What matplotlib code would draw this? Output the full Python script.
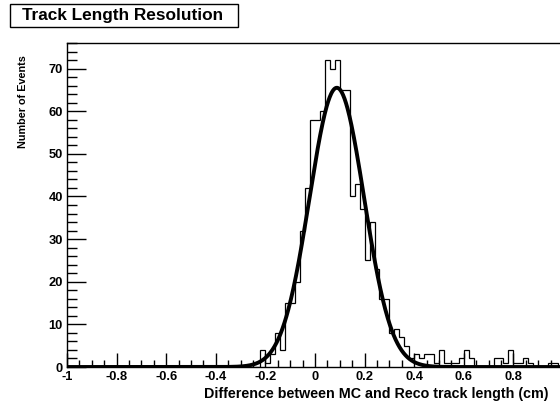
import numpy as np
import matplotlib
matplotlib.use("Agg")
import matplotlib.pyplot as plt
from matplotlib.patches import Rectangle
from matplotlib.ticker import MultipleLocator, FixedLocator

plt.rcParams['font.family'] = ['Liberation Sans', 'DejaVu Sans']

# ---- data ----
x_min, x_max, n_bins = -1.0, 1.0, 100
# nonzero bin contents keyed by bin left edge
bin_left = [-0.22, -0.20, -0.18, -0.16, -0.14, -0.12, -0.10, -0.08, -0.06, -0.04,
            -0.02, 0.00, 0.02, 0.04, 0.06, 0.08, 0.10, 0.12, 0.14, 0.16,
            0.18, 0.20, 0.22, 0.24, 0.26, 0.28, 0.30, 0.32, 0.34, 0.36,
            0.38, 0.40, 0.42, 0.44, 0.46, 0.48, 0.50, 0.52, 0.54, 0.56,
            0.58, 0.60, 0.62, 0.72, 0.74, 0.76, 0.78, 0.80, 0.82, 0.84,
            0.86, 0.94, 0.96]
bin_count = [4, 1, 3, 8, 4, 15, 15, 20, 32, 42,
             58, 58, 60, 72, 70, 72, 65, 65, 40, 43,
             37, 25, 34, 23, 16, 16, 8, 9, 7, 5,
             2, 3, 2, 3, 3, 1, 4, 1, 1, 1,
             2, 4, 2, 2, 2, 1, 4, 1, 1, 2,
             1, 1, 1]
# Gaussian fit parameters
fit_const = 65.5
fit_mean = 0.088
fit_sigma = 0.110

title = "Track Length Resolution"
xlabel = "Difference between MC and Reco track length (cm)"
ylabel = "Number of Events"
x_ticks = [-1, -0.8, -0.6, -0.4, -0.2, 0, 0.2, 0.4, 0.6, 0.8, 1]
x_ticklabels = ["-1", "-0.8", "-0.6", "-0.4", "-0.2", "0", "0.2", "0.4", "0.6", "0.8", ""]
y_ticks = [0, 10, 20, 30, 40, 50, 60, 70]

# ---- build histogram ----
edges = np.linspace(x_min, x_max, n_bins + 1)
counts = np.zeros(n_bins)
for l, c in zip(bin_left, bin_count):
    idx = int(round((l - x_min) / 0.02))
    counts[idx] = c

fig = plt.figure(figsize=(5.6, 4.05), dpi=100)
W, H = 560, 405
ax = fig.add_axes([67 / W, (H - 367) / H, 496 / W, 324 / H])

ax.stairs(counts, edges, color='black', linewidth=0.9)
xf = np.linspace(x_min, x_max, 1000)
ax.plot(xf, fit_const * np.exp(-0.5 * ((xf - fit_mean) / fit_sigma) ** 2),
        color='black', linewidth=2.8, solid_capstyle='butt')

ax.set_xlim(x_min, x_max)
ax.set_ylim(0, 76)
ax.xaxis.set_major_locator(FixedLocator(x_ticks))
ax.set_xticklabels(x_ticklabels)
ax.xaxis.set_minor_locator(MultipleLocator(0.05))
ax.yaxis.set_major_locator(FixedLocator(y_ticks))
ax.yaxis.set_minor_locator(MultipleLocator(2))

ax.tick_params(axis='x', which='major', direction='in', length=10, width=1, pad=3,
               labelsize=9.3, top=False)
ax.tick_params(axis='x', which='minor', direction='in', length=5, width=1, top=False)
ax.tick_params(axis='y', which='major', direction='in', length=14, width=1, pad=3,
               labelsize=9.3, right=False)
ax.tick_params(axis='y', which='minor', direction='in', length=7, width=1, right=False)
for lab in ax.get_xticklabels() + ax.get_yticklabels():
    lab.set_fontweight('bold')
for sp in ax.spines.values():
    sp.set_linewidth(1)

ax.set_xlabel(xlabel, fontsize=10.3, fontweight='bold', ha='right', x=(548 - 67) / 496, labelpad=2.5)
ax.set_ylabel(ylabel, fontsize=7.8, fontweight='bold', ha='right', y=(367 - 55) / 324, labelpad=15)

# title box
fig.patches.append(Rectangle((9.5 / W, 1 - 27 / H), 228 / W, 23 / H, transform=fig.transFigure,
                             facecolor='white', edgecolor='black', linewidth=1))
fig.text(123 / W, 1 - 15.5 / H, title, ha='center', va='center', fontsize=12.4,
         fontweight='bold')

fig.savefig("out.png", dpi=100)
